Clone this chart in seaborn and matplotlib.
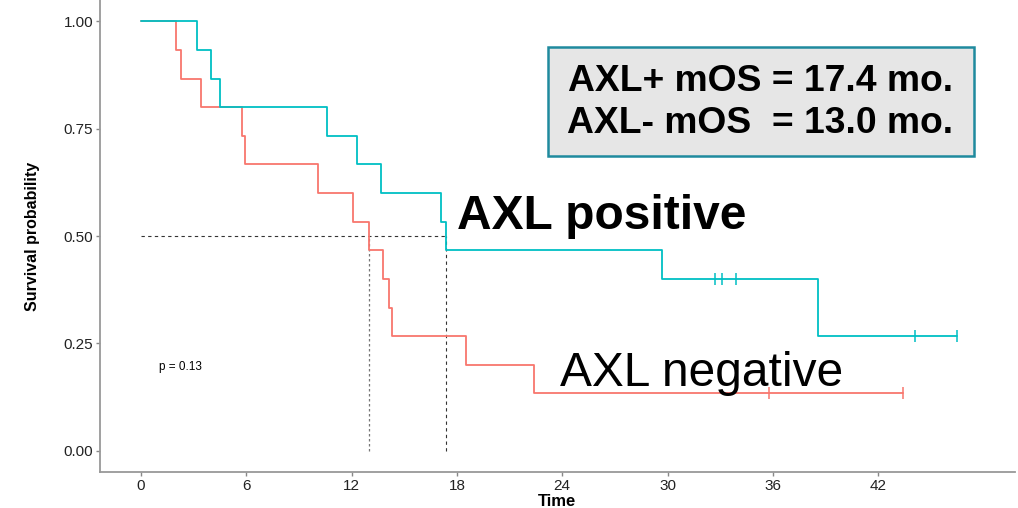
import pandas as pd
import seaborn as sns
import matplotlib.pyplot as plt
from matplotlib.patches import Rectangle

# Kaplan-Meier step points
pos_time = [0, 3.2, 4.0, 4.5, 10.6, 12.3, 13.7, 17.1, 17.4, 29.7, 38.6, 46.5]
pos_surv = [1.0, 0.933, 0.867, 0.8, 0.733, 0.667, 0.6, 0.533, 0.467, 0.4, 0.267, 0.267]
pos_cens_time = [32.7, 33.1, 33.9, 44.1, 46.5]
pos_cens_surv = [0.4, 0.4, 0.4, 0.267, 0.267]

neg_time = [0, 2.0, 2.25, 3.4, 5.75, 5.95, 10.1, 12.1, 13.0, 13.8, 14.1, 14.3, 18.5, 22.4, 43.4]
neg_surv = [1.0, 0.933, 0.867, 0.8, 0.733, 0.667, 0.6, 0.533, 0.467, 0.4, 0.333, 0.267, 0.2, 0.133, 0.133]
neg_cens_time = [35.8, 43.4]
neg_cens_surv = [0.133, 0.133]

median_pos = 17.4
median_neg = 13.0
x_ticks = [0, 6, 12, 18, 24, 30, 36, 42]
y_ticks = [0.0, 0.25, 0.5, 0.75, 1.0]
y_tick_labels = ['0.00', '0.25', '0.50', '0.75', '1.00']

sns.set_style('white')
plt.rcParams['font.family'] = ['Liberation Sans', 'DejaVu Sans']

# negative first so the positive curve is drawn on top
curves = pd.concat([
    pd.DataFrame({'time': neg_time, 'surv': neg_surv, 'group': 'AXL negative'}),
    pd.DataFrame({'time': pos_time, 'surv': pos_surv, 'group': 'AXL positive'}),
])
cens = pd.concat([
    pd.DataFrame({'time': neg_cens_time, 'surv': neg_cens_surv, 'group': 'AXL negative'}),
    pd.DataFrame({'time': pos_cens_time, 'surv': pos_cens_surv, 'group': 'AXL positive'}),
])
palette = {'AXL positive': '#00BFC4', 'AXL negative': '#F8766D'}

fig = plt.figure(figsize=(10.18, 5.08), dpi=100)
ax = fig.add_axes([100 / 1018, 36 / 508, 915 / 1018, 472 / 508])

# median reference lines
ax.plot([0, median_pos], [0.5, 0.5], ls=(0, (3, 3)), color='#333333', lw=0.8)
ax.plot([median_neg, median_neg], [0, 0.5], ls=(0, (2, 2)), color='#777777', lw=0.9)
ax.plot([median_pos, median_pos], [0, 0.5], ls=(0, (3, 3)), color='#333333', lw=0.8)

sns.lineplot(data=curves, x='time', y='surv', hue='group', palette=palette,
             hue_order=['AXL negative', 'AXL positive'],
             estimator=None, sort=False, drawstyle='steps-post', lw=1.3,
             legend=False, ax=ax)
for g in ['AXL negative', 'AXL positive']:
    d = cens[cens['group'] == g]
    ax.plot(d['time'], d['surv'], ls='none', marker='|', ms=8, mew=1.1,
            color=palette[g])

ax.set_xlim(-2.34, 49.8)
ax.set_ylim(-0.05, 1.05)
ax.set_xticks(x_ticks)
ax.set_yticks(y_ticks)
ax.set_yticklabels(y_tick_labels)
ax.tick_params(axis='both', labelsize=11, colors='#888888', labelcolor='#222222',
               length=3, width=1, direction='out', pad=2, bottom=True, left=True)
for s in ['top', 'right']:
    ax.spines[s].set_visible(False)
for s in ['left', 'bottom']:
    ax.spines[s].set_color('#999999')
    ax.spines[s].set_linewidth(1.3)
ax.set_xlabel('Time', fontsize=12, fontweight='bold', color='black')
ax.set_ylabel('Survival probability', fontsize=11.5, fontweight='bold', color='black')
ax.xaxis.set_label_coords(0.499, -0.047)
ax.yaxis.set_label_coords(-0.066, 0.5)

ax.text(1.0, 0.195, 'p = 0.13', fontsize=8.5, va='center', ha='left', color='black')
ax.text(18.0, 0.545, 'AXL positive', fontsize=34.5, fontweight='bold',
        va='center', ha='left', color='black')
ax.text(23.9, 0.18, 'AXL negative', fontsize=34.5, va='center', ha='left', color='black')

fig.patches.append(Rectangle((548 / 1018, 1 - 156 / 508), 426 / 1018, 109 / 508,
                             transform=fig.transFigure, facecolor='#E6E6E6',
                             edgecolor='#1F8A9E', lw=1.8))
fig.text(760.5 / 1018, 1 - 102.5 / 508, 'AXL+ mOS = 17.4 mo.\nAXL- mOS  = 13.0 mo.',
         fontsize=26.8, fontweight='bold', ha='center', va='center', linespacing=1.29,
         color='black')

plt.savefig('out.png', dpi=100)
